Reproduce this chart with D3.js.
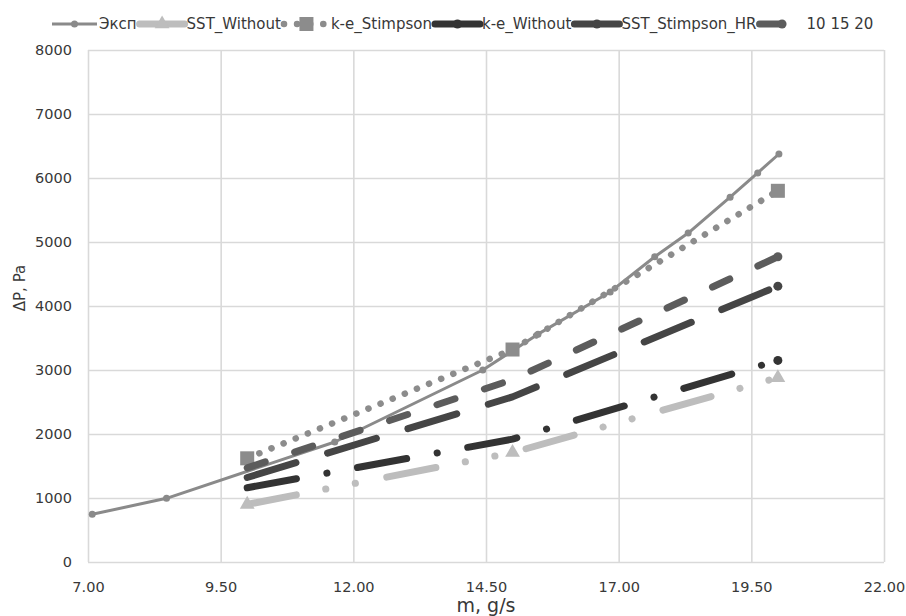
<!DOCTYPE html>
<html>
<head>
<meta charset="utf-8">
<script src="https://cdn.jsdelivr.net/npm/d3@7"></script>
<style>
  body { margin: 0; background: #fff; }
  svg { font-family: "DejaVu Sans", Verdana, sans-serif; }
</style>
</head>
<body>
<svg id="chart" width="906" height="616"></svg>
<script>
/**
 * Data.
 */
var mExp = [7.08, 8.48, 11.65, 14.44, 15.48, 16.84, 17.68, 18.31, 19.1, 19.62, 20.02];
var dpExp = [745, 995, 1875, 3000, 3560, 4220, 4770, 5140, 5700, 6080, 6375];
var mModel = [10, 15, 20];
var dpSstWithout = [900, 1710, 2880];
var dpKeStimpson = [1620, 3320, 5800];
var dpKeWithout = [1160, 1920, 3150];
var dpSstStimpsonHR = [1320, 2580, 4310];
var dp101520 = [1470, 2850, 4770];
var xTicks = [7, 9.5, 12, 14.5, 17, 19.5, 22];
var yTicks = [0, 1000, 2000, 3000, 4000, 5000, 6000, 7000, 8000];
var seriesNames = ["Эксп", "SST_Without", "k-e_Stimpson", "k-e_Without", "SST_Stimpson_HR", "10 15 20"];

var svg = d3.select("#chart");
var plotLeft = 88, plotRight = 884, plotTop = 50, plotBottom = 562;

var x = d3.scaleLinear().domain([7, 22]).range([plotLeft, plotRight]);
var y = d3.scaleLinear().domain([0, 8000]).range([plotBottom, plotTop]);

/**
 * Grid and axes (Excel style: light grid, no tick marks).
 */
var gx = svg.append("g")
    .attr("transform", "translate(0," + plotBottom + ")")
    .call(d3.axisBottom(x).tickValues(xTicks).tickFormat(d3.format(".2f"))
	  .tickSize(-(plotBottom - plotTop)).tickPadding(20));
var gy = svg.append("g")
    .attr("transform", "translate(" + plotLeft + ",0)")
    .call(d3.axisLeft(y).tickValues(yTicks).tickFormat(d3.format("d"))
	  .tickSize(-(plotRight - plotLeft)).tickPadding(16));
[gx, gy].forEach(function (g) {
    g.select(".domain").remove();
    g.selectAll(".tick line").attr("stroke", "#d9d9d9").attr("stroke-width", 1.6);
    g.selectAll(".tick text").attr("fill", "#383838")
	.style("font-size", "14.5px").style("font-family", "DejaVu Sans, sans-serif");
});

svg.append("text")
    .attr("x", (plotLeft + plotRight) / 2).attr("y", 612)
    .attr("text-anchor", "middle").attr("fill", "#383838")
    .style("font-size", "19px").text("m, g/s");
svg.append("text")
    .attr("transform", "translate(25,288) rotate(-90)")
    .attr("text-anchor", "middle").attr("fill", "#383838")
    .style("font-size", "15px").text("ΔP, Pa");

/**
 * Series styles, in legend order. "last" = marker shown only at the final point.
 */
var styles = [
    {xs: mExp, ys: dpExp, color: "#8a8a8a", width: 3, dash: null, marker: "circle", r: 3.5},
    {xs: mModel, ys: dpSstWithout, color: "#bdbdbd", width: 7, dash: "50,30,0.1,30,0.1,32", marker: "triangle"},
    {xs: mModel, ys: dpKeStimpson, color: "#8c8c8c", width: 6.5, dash: "0.1,13", marker: "square"},
    {xs: mModel, ys: dpKeWithout, color: "#333333", width: 7, dash: "50,31,0.1,31", marker: "circle", r: 4.5, last: true},
    {xs: mModel, ys: dpSstStimpsonHR, color: "#454545", width: 7, dash: "51,33", marker: "circle", r: 4.5, last: true},
    {xs: mModel, ys: dp101520, color: "#5c5c5c", width: 7, dash: "19,31", marker: "circle", r: 4.5, last: true}
];

var line = d3.line().x(function (d) { return x(d[0]); }).y(function (d) { return y(d[1]); });

function drawMarker(g, s, cx, cy) {
    if (s.marker === "circle") {
	g.append("circle").attr("cx", cx).attr("cy", cy).attr("r", s.r).attr("fill", s.color);
    } else if (s.marker === "square") {
	g.append("rect").attr("x", cx - 7).attr("y", cy - 7).attr("width", 14).attr("height", 14)
	    .attr("fill", s.color);
    } else if (s.marker === "triangle") {
	g.append("path").attr("transform", "translate(" + cx + "," + cy + ")")
	    .attr("d", d3.symbol().type(d3.symbolTriangle).size(95)()).attr("fill", s.color);
    }
}

var plot = svg.append("g");
styles.forEach(function (s) {
    var pts = s.xs.map(function (v, i) { return [v, s.ys[i]]; });
    var g = plot.append("g");
    g.append("path").attr("d", line(pts)).attr("fill", "none")
	.attr("stroke", s.color).attr("stroke-width", s.width)
	.attr("stroke-linecap", s.dash ? "round" : "butt")
	.attr("stroke-linejoin", "round")
	.attr("stroke-dasharray", s.dash);
    var shown = s.last ? pts.slice(-1) : pts;
    shown.forEach(function (p) { drawMarker(g, s, x(p[0]), y(p[1])); });
});

/**
 * Legend across the top.
 */
var lx = 52, ly = 24;
styles.forEach(function (s, i) {
    var g = svg.append("g");
    g.append("path").attr("d", "M" + lx + "," + ly + "H" + (lx + 45))
	.attr("stroke", s.color).attr("stroke-width", s.width)
	.attr("stroke-linecap", s.dash ? "round" : "butt")
	.attr("stroke-dasharray", s.dash);
    drawMarker(g, s, lx + 22.5, ly);
    var t = g.append("text").attr("x", lx + 47).attr("y", ly).attr("dy", "0.35em")
	.attr("fill", "#383838").style("font-size", "15px").text(seriesNames[i]);
    lx += 47 + t.node().getComputedTextLength() + 3;
});
</script>
</body>
</html>
